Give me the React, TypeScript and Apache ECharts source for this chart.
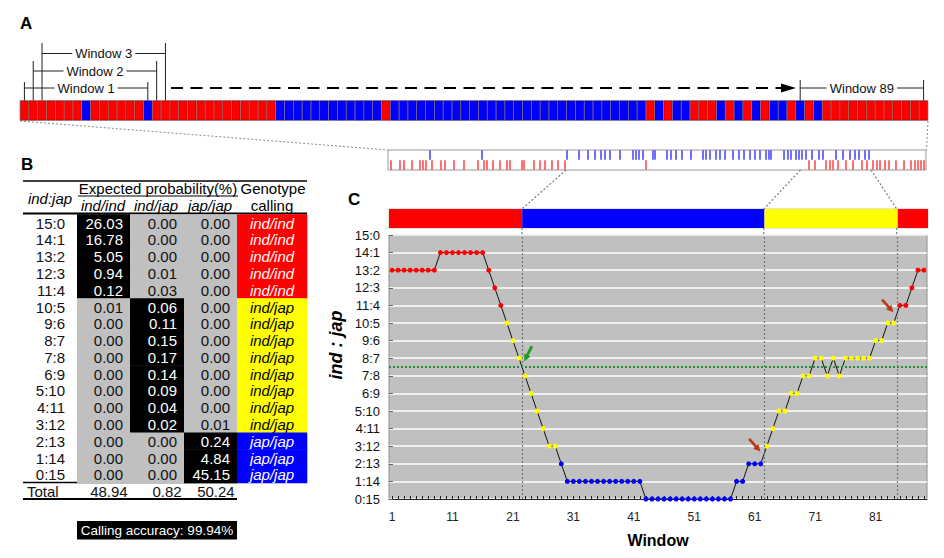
import React, { useEffect, useRef } from 'react';
import * as echarts from 'echarts';

const FONT = '"Liberation Sans", Arial, Helvetica, sans-serif';
const RED = '#ff0000';
const BLUE = '#0000ff';
const YELLOW = '#ffff00';
const GRAY = '#c0c0c0';

// ---------- DATA ----------
// Panel A: SNP genotypes along the segment (I = indica allele, J = japonica allele), run-length coded
const snpRuns: [string, number][] = [
  ['I', 7], ['J', 1], ['I', 6], ['J', 1], ['I', 14], ['J', 12], ['I', 1], ['J', 29],
  ['I', 1], ['J', 1], ['I', 1], ['J', 2], ['I', 3], ['J', 1], ['I', 1], ['J', 1],
  ['I', 1], ['J', 1], ['I', 1], ['J', 2], ['I', 1], ['J', 1], ['I', 1], ['J', 1], ['I', 12],
];
const snpGenotypes: string[] = snpRuns.flatMap(([g, n]) => Array(n).fill(g));
// relative physical positions of the 103 SNPs (zoomed strip)
const snpPositions = [
  3, 12, 16, 24, 32, 35, 38, 42, 44, 53, 57, 66, 76, 90, 94, 96, 99, 105, 112, 119,
  122, 134, 136, 146, 152, 157, 164, 170, 177, 179, 191, 200, 207, 213, 217, 222, 232, 245, 248, 251,
  255, 258, 265, 267, 279, 283, 288, 294, 303, 315, 318, 322, 328, 332, 337, 345, 351, 356, 362, 367,
  372, 378, 381, 383, 396, 400, 403, 408, 411, 414, 418, 421, 424, 427, 431, 435, 438, 442, 445, 448,
  450, 455, 458, 462, 465, 467, 471, 474, 477, 479, 481, 485, 489, 492, 497, 501, 508, 516, 523, 527,
  530, 533, 536,
];
const stripMax = 538;
const windowSize = 15;

// Panel C: number of indica alleles in each 15-SNP window (windows 1..89)
const windowInd = [
  13, 13, 13, 13, 13, 13, 13, 13, 14, 14, 14, 14, 14, 14, 14, 14, 13, 12, 11, 10,
  9, 8, 7, 6, 5, 4, 3, 3, 2, 1, 1, 1, 1, 1, 1, 1, 1, 1, 1, 1,
  1, 1, 0, 0, 0, 0, 0, 0, 0, 0, 0, 0, 0, 0, 0, 0, 0, 1, 1, 2,
  2, 2, 3, 4, 5, 5, 6, 6, 7, 7, 8, 8, 7, 8, 7, 8, 8, 8, 8, 8,
  9, 9, 10, 10, 11, 11, 12, 13, 13,
];
const windowXLabels = [1, 11, 21, 31, 41, 51, 61, 71, 81];
const hetThreshold = 7.5;
const segmentCalls = ['ind/ind', 'jap/jap', 'ind/jap', 'ind/ind'];
const segmentWindows = [22, 40, 22, 5];
const annotatedWindows = [1, 2, 3, 89];
const arrowWindows = [23, 63, 84];

// Panel B table
const ratioLabels = ['15:0', '14:1', '13:2', '12:3', '11:4', '10:5', '9:6', '8:7', '7:8', '6:9', '5:10', '4:11', '3:12', '2:13', '1:14', '0:15'];
const probIndInd = [26.03, 16.78, 5.05, 0.94, 0.12, 0.01, 0, 0, 0, 0, 0, 0, 0, 0, 0, 0];
const probIndJap = [0, 0, 0, 0.01, 0.03, 0.06, 0.11, 0.15, 0.17, 0.14, 0.09, 0.04, 0.02, 0, 0, 0];
const probJapJap = [0, 0, 0, 0, 0, 0, 0, 0, 0, 0, 0, 0, 0.01, 0.24, 4.84, 45.15];
const probTotals = [48.94, 0.82, 50.24];
const genotypeCalls = [
  'ind/ind', 'ind/ind', 'ind/ind', 'ind/ind', 'ind/ind',
  'ind/jap', 'ind/jap', 'ind/jap', 'ind/jap', 'ind/jap', 'ind/jap', 'ind/jap', 'ind/jap',
  'jap/jap', 'jap/jap', 'jap/jap',
];
const callingAccuracy = '99.94%';

// ---------- helpers ----------
const callColor: Record<string, string> = { 'ind/ind': RED, 'ind/jap': YELLOW, 'jap/jap': BLUE };
const callOfCount = (v: number) => genotypeCalls[15 - v];
const probCols = [probIndInd, probIndJap, probJapJap];
const callCol: Record<string, number> = { 'ind/ind': 1, 'ind/jap': 2, 'jap/jap': 3 };
const tableCols = [0, 54, 107, 161, 214, 284];
const arrowPath = 'path://M3,0L7,0L7,10L10,10L5,17L0,10L3,10Z';

function buildOption(): any {
  const tableCells: number[][] = [];
  for (let r = 0; r < 16; r++) for (let c = 0; c < 5; c++) tableCells.push([c, r]);
  for (let c = 0; c < 4; c++) tableCells.push([c, 16]);

  const segSeries = segmentWindows.map((n, i) => ({
    type: 'bar', xAxisIndex: 2, yAxisIndex: 2, stack: 'seg', barWidth: '100%', silent: true,
    data: [n], itemStyle: { color: callColor[segmentCalls[i]] },
  }));

  let acc = 0;
  const boundaries = segmentWindows.slice(0, -1).map((n) => (acc += n) + 0.5);

  return {
    animation: false,
    grid: [
      { left: 20, top: 100.5, width: 908, height: 20, show: true, borderColor: '#999', borderWidth: 0.6 },
      { left: 388, top: 150, width: 538, height: 20, show: true, borderColor: '#999', borderWidth: 1 },
      { left: 389, top: 209, width: 539, height: 19, show: true, borderColor: '#aaa', borderWidth: 0.6 },
      { left: 389, top: 235, width: 538, height: 264, show: true, backgroundColor: GRAY, borderColor: '#8c8c8c', borderWidth: 1 },
      { left: 23, top: 214.3, width: 284, height: 17 * 16.78 },
    ],
    xAxis: [
      { gridIndex: 0, type: 'category', data: snpGenotypes.map((_, i) => String(i + 1)), show: false },
      { gridIndex: 1, type: 'value', min: 0, max: stripMax, show: false },
      { gridIndex: 2, type: 'value', min: 0, max: windowInd.length, show: false },
      {
        gridIndex: 3, type: 'value', min: 0.5, max: windowInd.length + 0.5,
        name: 'Window', nameLocation: 'middle', nameGap: 33,
        nameTextStyle: { fontFamily: FONT, fontWeight: 'bold', fontSize: 16, color: '#000' },
        axisLine: { show: true, onZero: false, lineStyle: { color: '#222', width: 1 } },
        axisTick: { show: true, inside: true, length: 3, customValues: windowInd.map((_, i) => i + 1), lineStyle: { color: '#222' } },
        axisLabel: { customValues: windowXLabels, fontFamily: FONT, fontSize: 12, color: '#222', margin: 12 },
        splitLine: { show: false },
      },
      { gridIndex: 4, type: 'value', min: 0, max: 284, show: false },
    ],
    yAxis: [
      { gridIndex: 0, type: 'value', min: 0, max: 1, show: false },
      { gridIndex: 1, type: 'value', min: -0.5, max: 1.5, show: false },
      { gridIndex: 2, type: 'category', data: ['call'], show: false },
      {
        gridIndex: 3, type: 'value', min: 0, max: 15, interval: 1,
        axisLine: { show: false },
        axisTick: { show: true, inside: true, length: 4, lineStyle: { color: '#666' } },
        axisLabel: { formatter: (v: number) => ratioLabels[15 - v], fontFamily: FONT, fontSize: 13, color: '#111', margin: 9 },
        splitLine: { show: true, lineStyle: { color: '#ffffff', width: 1.5 } },
      },
      { gridIndex: 4, type: 'category', data: [...ratioLabels, 'Total'], inverse: true, show: false },
    ],
    series: [
      {
        type: 'bar', xAxisIndex: 0, yAxisIndex: 0, barCategoryGap: '0%', silent: true,
        data: snpGenotypes.map((g) => ({ value: 1, itemStyle: { color: g === 'I' ? RED : BLUE } })),
        itemStyle: { borderColor: 'rgba(40,0,0,0.55)', borderWidth: 0.6 },
      },
      {
        type: 'scatter', xAxisIndex: 1, yAxisIndex: 1, symbol: 'rect', symbolSize: [1.4, 9.5], silent: true,
        data: snpPositions.map((p, i) => ({ value: [p, snpGenotypes[i] === 'J' ? 1 : 0], itemStyle: { color: snpGenotypes[i] === 'J' ? BLUE : RED } })),
      },
      ...segSeries,
      {
        type: 'line', xAxisIndex: 3, yAxisIndex: 3, silent: true,
        data: windowInd.map((v, i) => [i + 1, v]),
        symbol: 'circle', symbolSize: 5, showAllSymbol: true,
        lineStyle: { color: '#111', width: 1 },
        itemStyle: { color: (p: any) => callColor[callOfCount(p.value[1])], borderWidth: 0 },
        markLine: {
          silent: true, symbol: ['none', 'none'], label: { show: false },
          data: [
            { yAxis: hetThreshold, lineStyle: { color: '#1f8f3a', type: [2, 2], width: 2 } },
            ...boundaries.map((b) => ({ xAxis: b, lineStyle: { color: '#777', type: [2, 2], width: 1.2 } })),
          ],
        },
        markPoint: {
          silent: true, label: { show: false },
          data: [
            { coord: [arrowWindows[0], windowInd[arrowWindows[0] - 1]], symbol: arrowPath, symbolSize: [7, 17], symbolRotate: -27, symbolOffset: [3, -22], itemStyle: { color: '#1e9a2a' } },
            { coord: [arrowWindows[1], windowInd[arrowWindows[1] - 1]], symbol: arrowPath, symbolSize: [7, 17], symbolRotate: 42, symbolOffset: [-12, -1], itemStyle: { color: '#b83a1c' } },
            { coord: [arrowWindows[2], windowInd[arrowWindows[2] - 1]], symbol: arrowPath, symbolSize: [7, 17], symbolRotate: 42, symbolOffset: [-6, -17], itemStyle: { color: '#b83a1c' } },
          ],
        },
      },
      {
        type: 'custom', xAxisIndex: 4, yAxisIndex: 4, silent: true, data: tableCells,
        encode: { x: 0, y: 1 },
        renderItem: (params: any, api: any) => {
          const c = api.value(0) as number;
          const r = api.value(1) as number;
          const x0 = api.coord([tableCols[c], r])[0];
          const x1 = api.coord([tableCols[c + 1], r])[0];
          const cy = api.coord([0, r])[1];
          const h = api.size([0, 1])[1];
          const total = r === 16;
          let fill = '';
          let text = '';
          let color = '#111';
          let align = 'right';
          let tx = x1 - 7;
          let italic = false;
          if (c === 0) {
            text = total ? 'Total' : ratioLabels[r];
            align = total ? 'left' : 'right';
            tx = total ? x0 + 4 : x1 - 12;
          } else if (c <= 3) {
            const v = total ? probTotals[c - 1] : probCols[c - 1][r];
            text = v.toFixed(2);
            if (!total) {
              const black = callCol[genotypeCalls[r]] === c;
              fill = black ? '#000' : GRAY;
              color = black ? '#fff' : '#111';
            }
            tx = total ? x1 - 2.3 : x1 - 7;
          } else {
            const call = genotypeCalls[r];
            fill = callColor[call];
            color = call === 'ind/jap' ? '#000' : '#fff';
            text = call;
            align = 'center';
            tx = (x0 + x1) / 2;
            italic = true;
          }
          const children: any[] = [];
          if (fill) children.push({ type: 'rect', shape: { x: x0, y: cy - h / 2, width: x1 - x0 + 0.3, height: h + 0.5 }, style: { fill } });
          children.push({
            type: 'text', x: tx, y: cy + 0.5,
            style: { text, fill: color, font: `${italic ? 'italic ' : ''}15px ${FONT}`, align, verticalAlign: 'middle', textAlign: align, textVerticalAlign: 'middle' },
          });
          return { type: 'group', children };
        },
      },
    ],
  };
}

function txt(text: string, x: number, y: number, font: string, fill = '#000', align = 'left', extra: any = {}) {
  return {
    type: 'text', x, y, silent: true, ...extra,
    style: { text, font, fill, align, verticalAlign: 'middle', textAlign: align, textVerticalAlign: 'middle', ...(extra.style || {}) },
  };
}
function ln(x1: number, y1: number, x2: number, y2: number, stroke = '#000', lineWidth = 1, lineDash?: number[]) {
  return { type: 'line', silent: true, shape: { x1, y1, x2, y2 }, style: { stroke, lineWidth, lineDash } };
}

export default function App() {
  const ref = useRef<HTMLDivElement>(null);
  useEffect(() => {
    const chart = echarts.init(ref.current!, null, { renderer: 'svg' });
    chart.setOption(buildOption());

    const G: any[] = [];
    const f = (size: number, style = '') => `${style}${size}px ${FONT}`;
    // panel letters
    G.push(txt('A', 20, 23, f(17, 'bold ')));
    G.push(txt('B', 21, 164, f(17, 'bold ')));
    G.push(txt('C', 348, 199, f(17, 'bold ')));

    // window brackets on panel A
    const cellX = (i: number) => (chart.convertToPixel({ gridIndex: 0 }, [i, 0]) as number[])[0];
    const bracketLayout: Record<number, { ly: number; top: number }> = {
      1: { ly: 88, top: 82 }, 2: { ly: 71, top: 61 }, 3: { ly: 53.5, top: 43 }, 89: { ly: 88, top: 80 },
    };
    annotatedWindows.forEach((w) => {
      const l = cellX(w - 1);
      const r = cellX(w - 1 + windowSize - 1);
      const { ly, top } = bracketLayout[w];
      G.push(ln(l, top, l, 100.5, '#222', 1));
      G.push(ln(r, top, r, 100.5, '#222', 1));
      G.push(ln(l, ly, r, ly, '#222', 1));
      G.push(txt(`Window ${w}`, (l + r) / 2, ly, f(13), '#111', 'center', { style: { backgroundColor: '#fff', padding: [0, 3] } }));
    });
    // dashed arrow
    G.push(ln(171, 88, 782, 88, '#000', 2, [12, 7.5]));
    G.push({ type: 'polygon', silent: true, shape: { points: [[781, 83.5], [796, 88], [781, 92.5]] }, style: { fill: '#000' } });

    // connectors A -> strip
    G.push(ln(20, 121, 388, 150, '#888', 1, [2, 2]));
    G.push(ln(928, 121, 926.5, 150, '#888', 1, [2, 2]));

    // connectors strip -> C bar
    let acc = 0;
    segmentWindows.slice(0, -1).forEach((n) => {
      acc += n;
      const mid = (snpPositions[acc + 6] + snpPositions[acc + 7]) / 2;
      const sx = (chart.convertToPixel({ gridIndex: 1 }, [mid, 0]) as number[])[0];
      const bx = (chart.convertToPixel({ gridIndex: 3 }, [acc + 0.5, 0]) as number[])[0];
      G.push(ln(sx, 170, bx, 209, '#777', 1.2, [2, 2]));
      G.push(ln(bx, 228, bx, 235, '#777', 1.2, [2, 2]));
    });

    // y axis title of C
    G.push({
      type: 'text', x: 336, y: 345, rotation: Math.PI / 2, silent: true,
      style: { text: 'ind : jap', font: `italic bold 18px ${FONT}`, fill: '#000', align: 'center', verticalAlign: 'middle', textAlign: 'center', textVerticalAlign: 'middle' },
    });

    // table header
    G.push(ln(23, 181, 307, 181, '#000', 1.5));
    G.push(txt('ind:jap', 50, 198, f(15, 'italic '), '#000', 'center'));
    G.push(txt('Expected probability(%)', 158, 188, f(15), '#000', 'center'));
    G.push(ln(78, 196, 238, 196, '#000', 1));
    G.push(txt('Genotype', 273, 188, f(15), '#000', 'center'));
    G.push(txt('calling', 272, 205.5, f(15), '#000', 'center'));
    G.push(txt('ind/ind', 103, 205.5, f(15, 'italic '), '#000', 'center'));
    G.push(txt('ind/jap', 156, 205.5, f(15, 'italic '), '#000', 'center'));
    G.push(txt('jap/jap', 210, 205.5, f(15, 'italic '), '#000', 'center'));
    G.push(ln(23, 213.5, 307, 213.5, '#000', 2));
    G.push(ln(23, 482.6, 237, 482.6, '#000', 1.5));
    G.push(ln(23, 499, 237, 499, '#000', 2));
    // calling accuracy
    G.push({ type: 'rect', silent: true, shape: { x: 77, y: 521, width: 160, height: 18.5 }, style: { fill: '#000' } });
    G.push(txt(`Calling accuracy: ${callingAccuracy}`, 157, 530.5, f(13.5), '#fff', 'center'));

    chart.setOption({ graphic: G });
    return () => chart.dispose();
  }, []);
  return <div ref={ref} style={{ position: 'absolute', left: 0, top: 0, width: 944, height: 558 }} />;
}
